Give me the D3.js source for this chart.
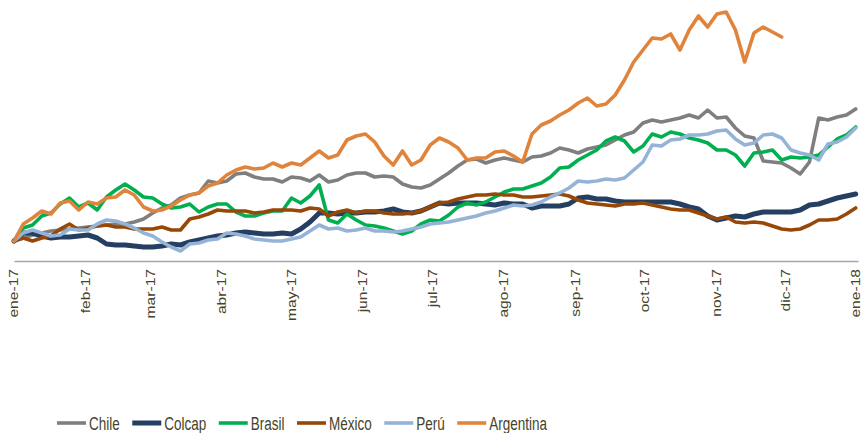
<!DOCTYPE html>
<html>
<head>
<meta charset="utf-8">
<script src="https://cdnjs.cloudflare.com/ajax/libs/d3/7.8.5/d3.min.js"></script>
<style>
  body { margin: 0; background: #fff; }
</style>
</head>
<body>
<div id="graph"></div>
<script>
// fechas (cada 4 dias) y series indexadas (ene-17 = 100)
var dates = [
  "2017-01-01","2017-01-05","2017-01-09","2017-01-13","2017-01-17","2017-01-21","2017-01-25","2017-01-29",
  "2017-02-02","2017-02-06","2017-02-10","2017-02-14","2017-02-18","2017-02-22","2017-02-26",
  "2017-03-02","2017-03-06","2017-03-10","2017-03-14","2017-03-18","2017-03-22","2017-03-26","2017-03-30",
  "2017-04-03","2017-04-07","2017-04-11","2017-04-15","2017-04-19","2017-04-23","2017-04-27",
  "2017-05-01","2017-05-05","2017-05-09","2017-05-13","2017-05-17","2017-05-21","2017-05-25","2017-05-29",
  "2017-06-02","2017-06-06","2017-06-10","2017-06-14","2017-06-18","2017-06-22","2017-06-26","2017-06-30",
  "2017-07-04","2017-07-08","2017-07-12","2017-07-16","2017-07-20","2017-07-24","2017-07-28",
  "2017-08-01","2017-08-05","2017-08-09","2017-08-13","2017-08-17","2017-08-21","2017-08-25","2017-08-29",
  "2017-09-02","2017-09-06","2017-09-10","2017-09-14","2017-09-18","2017-09-22","2017-09-26","2017-09-30",
  "2017-10-04","2017-10-08","2017-10-12","2017-10-16","2017-10-20","2017-10-24","2017-10-28",
  "2017-11-01","2017-11-05","2017-11-09","2017-11-13","2017-11-17","2017-11-21","2017-11-25","2017-11-29",
  "2017-12-03","2017-12-07","2017-12-11","2017-12-15","2017-12-19","2017-12-23","2017-12-27","2017-12-31"
];

var chile = [100,101.2,102.4,103.2,104,104.4,104.8,105.2,
  105.6,106,106.4,106.8,106.8,107.6,108.8,
  111.2,113.2,114.4,117.2,118.4,119.2,124,123.2,
  124,126.8,127.2,125.6,124.8,124.8,123.6,
  125.6,125.2,124,126.4,123.6,124.4,126.4,127.2,
  127.2,125.6,126,125.6,122.8,121.6,121.2,122.4,
  124.8,127.2,130,132.4,132.8,131.2,132.4,
  133.2,132.4,131.6,133.6,134,135.2,137.2,136.4,
  135.2,136.8,137.6,138.4,140.4,142.4,143.6,147.2,
  148.4,147.6,148.4,149.2,150.4,149.2,152.4,
  149.2,149.6,145.2,142,141.2,132,131.6,131.2,
  129.2,126.8,131.6,149.2,148.4,149.6,150.4,152.8];

var colcap = [100,103.2,103.2,102,101.2,101.6,101.6,102,
  102.4,101.2,98.8,98.4,98.4,98,97.6,
  97.6,98,98.8,98.4,99.6,100.4,101.2,102,
  102.4,103.2,103.6,103.2,102.8,102.8,103.2,
  102.8,104.8,107.6,111.2,111.2,110.8,111.2,111.2,
  111.6,111.6,112,112.8,111.6,111.2,112,113.6,
  115.2,114.8,115.2,115.2,115.2,114.8,114.4,
  115.2,114.8,114.8,113.2,114,114,114,114.8,
  117.2,117.6,116.8,116.8,116,115.6,115.6,115.6,
  115.6,115.6,115.6,114.8,113.6,112.8,110,
  108.4,109.2,110,109.6,110.8,111.6,111.6,111.6,
  111.6,112.4,114.4,114.8,116,117.2,118,118.8];

var brasil = [100,105.2,106.4,110,111.2,114.8,117.2,113.6,
  115.2,112.4,117.6,120.4,122.8,120.4,117.6,
  117.2,114.8,113.2,113.6,114.8,111.6,113.6,114.8,
  114.8,111.6,110,110,111.2,112,112,
  117.2,115.2,118,122.4,108.4,107.2,110.8,108.4,
  106.4,106,105.2,104,102.8,104,106.8,108.4,
  108,110.4,113.6,115.2,114.4,115.6,117.6,
  119.6,120.8,120.8,122,123.2,125.6,129.2,129.6,
  132.4,134.4,136.4,140,141.6,140,135.6,138,
  142.8,141.6,143.6,142.8,141.2,140.4,139.2,
  136.4,136.4,134.4,130,135.2,135.6,136.4,132.4,
  133.6,133.2,133.6,134.4,137.6,140.8,142.4,145.6];

var mexico = [100,101.2,100,101.2,102,104.8,106.8,104.4,
  105.2,106,106.4,105.6,105.6,104.8,104.8,
  104.8,105.6,104.4,104.4,108.8,109.6,110.8,112.4,
  112,112,112,111.2,111.6,112.4,112.4,
  112.4,112,113.2,112.8,110,111.6,112.4,111.2,
  112,112,111.2,110.8,110.8,111.2,112,113.6,
  115.2,115.6,116.8,117.6,118.4,118.4,118.8,
  118.4,118.4,117.6,117.6,118,118.4,118.8,118,
  116.4,115.2,114.8,114.4,114,114.8,114.8,115.2,
  114.4,113.6,112.8,112.4,112.4,111.2,110,
  108.8,109.6,107.6,107.2,107.6,107.2,106,104.8,
  104.4,104.8,106.4,108.4,108.4,108.8,110.8,113.2];

var peru = [100,103.2,104.4,103.2,102,102.4,104.8,104.4,
  104.4,106.8,108.4,108,106.8,105.2,103.2,
  102,99.6,97.6,96,98.8,99.2,100.4,100.8,
  103.2,102.8,102,100.8,100.4,100,100,
  100.8,101.6,104,106.4,104.8,105.2,104,104.4,
  105.2,104,104,103.6,104,104.8,105.6,106.8,
  107.2,107.6,108.4,109.2,110,111.2,112,
  113.2,114.4,114,114.4,115.6,117.6,119.2,121.2,
  124,123.6,124,124.8,124.4,125.2,128.4,131.6,
  138.4,138,140.4,140.8,142.4,142.4,142.8,
  144,144.4,140.8,138.4,139.2,142.4,142.8,141.2,
  136.4,135.2,134.4,132.4,138.8,139.6,141.6,145.2];

var argentina = [100,106.8,109.2,112,110.8,115.2,116,112.4,
  115.6,114.8,117.2,117.6,120.4,118.4,113.6,
  112,112.4,114,116.4,118.4,119.2,122,123.2,
  126.4,128.4,129.6,128.8,129.2,131.2,129.6,
  131.2,130.4,133.2,136,133.2,134.4,140.4,142,
  142.8,139.6,134,130.4,136,130.4,132.4,138.4,
  141.2,139.6,137.2,132.4,133.2,133.2,135.6,
  136,134,131.6,142.8,146.4,148,150.4,152.4,
  155.2,157.2,154,154.8,158.4,164.4,171.6,176.4,
  181.2,180.8,182.8,176.4,184.4,190,185.6,
  190.8,191.6,184.4,171.6,183.2,185.6,183.6,181.6,
  null,null,null,null,null,null,null,null];

var monthLabels = ["ene","feb","mar","abr","may","jun","jul","ago","sep","oct","nov","dic"];

var series = [
  {name: "Chile", values: chile, color: "#7f7f7f", width: 3.6},
  {name: "Colcap", values: colcap, color: "#243f62", width: 5},
  {name: "Brasil", values: brasil, color: "#00b050", width: 3.6},
  {name: "México", values: mexico, color: "#974706", width: 3.6},
  {name: "Perú", values: peru, color: "#95b3d7", width: 3.6},
  {name: "Argentina", values: argentina, color: "#e0833b", width: 3.6}
];

var width = 862;
var height = 433;
var textColor = "#474329";
var font = "Arial, 'Liberation Sans', sans-serif";

var parseDate = d3.timeParse("%Y-%m-%d");
var parsed = dates.map(parseDate);

var svg = d3.select("#graph").
append("svg").
attr("width", width).
attr("height", height);

var xScale = d3.scaleTime().
domain([parseDate("2017-01-01"), parseDate("2018-01-01")]).
range([14, 858]);

var yScale = d3.scaleLinear().
domain([92, 192]).
range([261, 11]);

var xAxis = d3.axisBottom(xScale).
ticks(d3.timeMonth.every(1)).
tickSize(0).
tickSizeOuter(0).
tickFormat(function (d) {return monthLabels[d.getMonth()] + "-" + d3.timeFormat("%y")(d);});

var axisG = svg.append("g").
attr("transform", "translate(0,261)").
call(xAxis);

axisG.select(".domain").
attr("stroke", "#a6a6a6").
attr("stroke-width", 1.5);

// the last label sits on the right edge, pull it in a bit
axisG.selectAll("text").
attr("x", 0).
attr("y", 0).
attr("dy", "0.3em").
attr("transform", function (d, i, nodes) {
  var shift = i === nodes.length - 1 ? -2 : 0;
  return "translate(" + shift + ",8) rotate(-90) scale(1.3,1)";
}).
style("text-anchor", "end").
style("font-family", font).
style("font-size", "12px").
attr("fill", textColor);

var line = d3.line().
defined(function (d) {return d.v != null;}).
x(function (d) {return xScale(d.date);}).
y(function (d) {return yScale(d.v);});

svg.selectAll("path.serie").
data(series).
enter().
append("path").
attr("class", "serie").
attr("fill", "none").
attr("stroke", function (s) {return s.color;}).
attr("stroke-width", function (s) {return s.width;}).
attr("stroke-linejoin", "round").
attr("stroke-linecap", "round").
attr("d", function (s) {
  return line(s.values.map(function (v, i) {return {date: parsed[i], v: v};}));
});

// leyenda
var legend = svg.append("g").attr("id", "legend");
var lx = 57;
series.forEach(function (s) {
  legend.append("line").
  attr("x1", lx).
  attr("x2", lx + 29).
  attr("y1", 423).
  attr("y2", 423).
  attr("stroke", s.color).
  attr("stroke-width", s.width);

  var t = legend.append("text").
  text(s.name).
  attr("transform", "translate(" + (lx + 32) + ",430) scale(1,1.33)").
  style("font-family", font).
  style("font-size", "13.5px").
  attr("fill", textColor);

  lx += 32 + t.node().getComputedTextLength() + 12.5;
});
</script>
</body>
</html>
